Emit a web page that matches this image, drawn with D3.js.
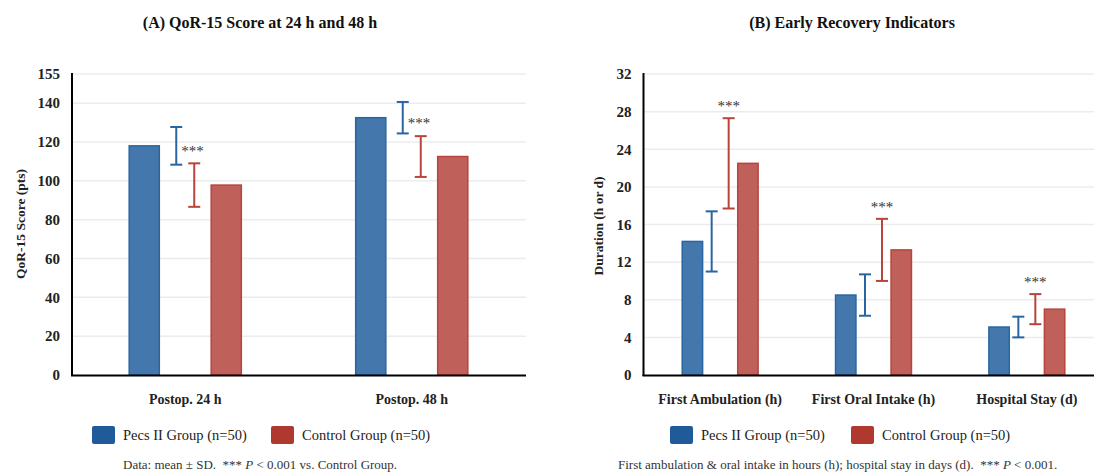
<!DOCTYPE html>
<html>
<head>
<meta charset="utf-8">
<script src="https://cdn.jsdelivr.net/npm/d3@7"></script>
<style>
    body { margin: 0; background: #fff; }
    text { white-space: pre; }
</style>
</head>
<body>
<svg id="chart" width="1094" height="473"></svg>
<script>
// Panel A: QoR-15 scores
const qorCategories = ['Postop. 24 h', 'Postop. 48 h'];
const qorPecsMean = [118, 132.5];
const qorPecsSD = [9.7, 8.1];
const qorCtrlMean = [97.8, 112.5];
const qorCtrlSD = [11.2, 10.5];
const qorTicks = [0, 20, 40, 60, 80, 100, 120, 140, 155];

// Panel B: early recovery indicators
const recCategories = ['First Ambulation (h)', 'First Oral Intake (h)', 'Hospital Stay (d)'];
const recPecsMean = [14.2, 8.5, 5.1];
const recPecsSD = [3.2, 2.2, 1.1];
const recCtrlMean = [22.5, 13.3, 7.0];
const recCtrlSD = [4.8, 3.3, 1.6];
const recTicks = [0, 4, 8, 12, 16, 20, 24, 28, 32];

const groupNames = ['Pecs II Group (n=50)', 'Control Group (n=50)'];

const FONT = "'Liberation Serif', 'Times New Roman', Times, serif";
const BLUE = '#2a65a3', BLUE_FILL = '#4478ad';
const RED = '#b8443c', RED_FILL = '#c0605a';
const BLUE_SW = '#1f5b99', RED_SW = '#b0392f';

const svg = d3.select('#chart').attr('font-family', FONT);

function txt(sel) {
    return sel.append('text').attr('font-family', FONT);
}

function drawPanel(opt) {
    const g = svg.append('g');
    const x = d3.scaleBand().domain(opt.categories).range(opt.xRange);
    const y = d3.scaleLinear().domain([0, opt.yMax]).range([375, 74]);
    const bw = x.bandwidth();
    const cx = c => x(c) + bw / 2;

    // grid
    g.selectAll('.grid').data(opt.ticks.filter(t => t > 0)).enter().append('line')
        .attr('x1', opt.xRange[0]).attr('x2', opt.gridEnd)
        .attr('y1', d => y(d)).attr('y2', d => y(d))
        .attr('stroke', '#ececec').attr('stroke-width', 1.5);

    // y tick labels
    opt.ticks.forEach(t => {
        txt(g).attr('x', opt.xRange[0] - 12).attr('y', y(t))
            .attr('dy', '0.35em').attr('text-anchor', 'end')
            .attr('font-size', 15).attr('font-weight', 'bold').attr('fill', '#222')
            .text(t);
    });

    // y title
    txt(g)
        .attr('transform', `translate(${opt.yTitleX},${opt.yTitleY}) rotate(-90)`)
        .attr('text-anchor', 'middle').attr('dy', '0.35em')
        .attr('font-size', 13.5).attr('font-weight', 'bold').attr('fill', '#222')
        .text(opt.yTitle);

    const series = [
        { mean: opt.pecsMean, sd: opt.pecsSD, fill: BLUE_FILL, stroke: BLUE, side: -1 },
        { mean: opt.ctrlMean, sd: opt.ctrlSD, fill: RED_FILL, stroke: RED, side: 1 }
    ];
    const barW = bw * 0.133;
    const barOff = bw * 0.181;

    series.forEach(s => {
        // bars
        g.selectAll(null).data(opt.categories).enter().append('rect')
            .attr('x', (c) => cx(c) + s.side * barOff - barW / 2)
            .attr('y', (c, i) => y(s.mean[i]))
            .attr('width', barW)
            .attr('height', (c, i) => y(0) - y(s.mean[i]))
            .attr('fill', s.fill).attr('stroke', s.stroke).attr('stroke-width', 1.5);

        // error bars
        const eg = g.selectAll(null).data(opt.categories).enter().append('g')
            .attr('stroke', s.stroke).attr('stroke-width', 2);
        const ex = c => cx(c) + s.side * opt.errOff;
        eg.append('line')
            .attr('x1', ex).attr('x2', ex)
            .attr('y1', (c, i) => y(s.mean[i] + s.sd[i]))
            .attr('y2', (c, i) => y(s.mean[i] - s.sd[i]));
        eg.append('line')
            .attr('x1', c => ex(c) - 6).attr('x2', c => ex(c) + 6)
            .attr('y1', (c, i) => y(s.mean[i] + s.sd[i]))
            .attr('y2', (c, i) => y(s.mean[i] + s.sd[i]));
        eg.append('line')
            .attr('x1', c => ex(c) - 6).attr('x2', c => ex(c) + 6)
            .attr('y1', (c, i) => y(s.mean[i] - s.sd[i]))
            .attr('y2', (c, i) => y(s.mean[i] - s.sd[i]));
    });

    // significance stars
    opt.categories.forEach((c, i) => {
        txt(g).attr('font-size', 15).attr('fill', '#333')
            .attr('text-anchor', opt.starBeside ? 'start' : 'middle')
            .attr('x', opt.starBeside ? cx(c) - opt.errOff + 5 : cx(c) + opt.errOff)
            .attr('y', opt.starBeside
                ? y(opt.pecsMean[i]) + 10
                : y(opt.ctrlMean[i] + opt.ctrlSD[i]) - 7)
            .text('***');
    });

    // axes lines
    g.append('line')
        .attr('x1', opt.xRange[0]).attr('x2', opt.xRange[0])
        .attr('y1', 73).attr('y2', 376)
        .attr('stroke', '#000').attr('stroke-width', 2);
    g.append('line')
        .attr('x1', opt.xRange[0] - 1).attr('x2', opt.gridEnd)
        .attr('y1', 375.5).attr('y2', 375.5)
        .attr('stroke', '#000').attr('stroke-width', 2);

    // category labels
    opt.categories.forEach(c => {
        txt(g).attr('x', cx(c)).attr('y', 399).attr('dy', '0.35em')
            .attr('text-anchor', 'middle')
            .attr('font-size', 14).attr('font-weight', 'bold').attr('fill', '#222')
            .text(c);
    });

    // title
    txt(g)
        .attr('x', opt.titleX).attr('y', 22).attr('dy', '0.35em')
        .attr('text-anchor', 'middle')
        .attr('font-size', 16).attr('font-weight', 'bold').attr('fill', '#111')
        .text(opt.title);

    // legend
    [BLUE_SW, RED_SW].forEach((col, i) => {
        g.append('rect')
            .attr('x', opt.legendX[i]).attr('y', 426)
            .attr('width', 23).attr('height', 18).attr('rx', 2)
            .attr('fill', col);
        txt(g)
            .attr('x', opt.legendX[i] + 31).attr('y', 435).attr('dy', '0.35em')
            .attr('font-size', 14.5).attr('fill', '#222')
            .text(groupNames[i]);
    });

    // footnote
    const fn = txt(g)
        .attr('x', opt.noteX).attr('y', 464).attr('dy', '0.35em')
        .attr('font-size', 13).attr('fill', '#333');
    fn.append('tspan').text(opt.notePre);
    fn.append('tspan').attr('font-style', 'italic').text('P');
    fn.append('tspan').text(opt.notePost);
}

drawPanel({
    categories: qorCategories,
    pecsMean: qorPecsMean, pecsSD: qorPecsSD,
    ctrlMean: qorCtrlMean, ctrlSD: qorCtrlSD,
    ticks: qorTicks, yMax: 155,
    xRange: [72, 525], gridEnd: 526,
    errOff: 9, starBeside: true,
    yTitle: 'QoR-15 Score (pts)', yTitleX: 20, yTitleY: 224,
    title: '(A) QoR-15 Score at 24 h and 48 h', titleX: 260,
    legendX: [92, 271],
    noteX: 123, notePre: 'Data: mean ± SD.  *** ', notePost: ' < 0.001 vs. Control Group.'
});

drawPanel({
    categories: recCategories,
    pecsMean: recPecsMean, pecsSD: recPecsSD,
    ctrlMean: recCtrlMean, ctrlSD: recCtrlSD,
    ticks: recTicks, yMax: 32,
    xRange: [643.5, 1103.5], gridEnd: 1094,
    errOff: 8.5, starBeside: false,
    yTitle: 'Duration (h or d)', yTitleX: 598, yTitleY: 226,
    title: '(B) Early Recovery Indicators', titleX: 852,
    legendX: [670, 851],
    noteX: 618, notePre: 'First ambulation & oral intake in hours (h); hospital stay in days (d).  *** ', notePost: ' < 0.001.'
});
</script>
</body>
</html>
